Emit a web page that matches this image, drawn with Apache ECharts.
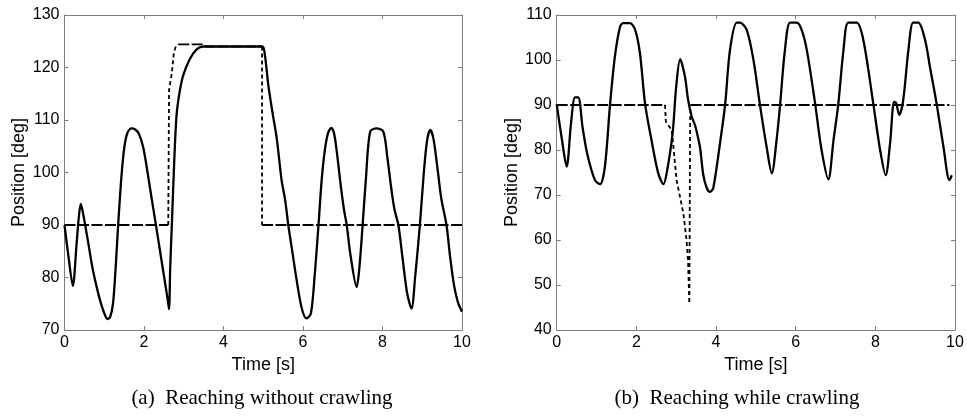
<!DOCTYPE html>
<html>
<head>
<meta charset="utf-8">
<script src="https://cdn.jsdelivr.net/npm/echarts@6/dist/echarts.min.js"></script>
<style>
  html, body { margin: 0; padding: 0; background: #fff; }
  #chart { width: 967px; height: 416px; }
</style>
</head>
<body>
<div id="chart"></div>
<script>
// --- data (time [s], position [deg]) ---
const yRangeA = [70, 130];
const yRangeB = [40, 110];

// (a) actual joint position, solid line
const actualA = [
  [0, 90], [0.1, 84], [0.21, 78.4], [0.3, 86], [0.36, 91.5], [0.41, 94], [0.46, 92.5],
  [0.52, 90], [0.6, 86.5], [0.7, 82], [0.8, 78.5], [0.9, 75.5], [1.0, 73.2], [1.08, 72.1],
  [1.15, 72.5], [1.22, 75], [1.28, 81], [1.35, 90], [1.43, 99], [1.5, 104.5], [1.58, 107.5],
  [1.68, 108.4], [1.78, 108.2], [1.87, 107.4], [1.98, 104.8], [2.1, 99.5], [2.2, 94.7],
  [2.3, 90], [2.4, 85.2], [2.5, 80.4], [2.6, 75.6], [2.63, 74], [2.66, 82], [2.7, 90],
  [2.76, 102], [2.82, 111], [2.9, 115.5], [2.99, 118.6], [3.16, 121.7], [3.33, 123.5],
  [3.5, 124], [4.97, 124], [5.04, 122.4], [5.13, 116.5], [5.25, 110.6], [5.34, 106.5],
  [5.46, 98.6], [5.55, 94.8], [5.63, 90], [5.74, 84.5], [5.84, 79.5], [5.97, 74.1],
  [6.09, 72.2], [6.2, 73.2], [6.3, 81], [6.39, 90], [6.47, 98.6], [6.55, 104.3],
  [6.63, 107.5], [6.71, 108.5], [6.78, 107.5], [6.85, 104], [6.95, 97.5], [7.03, 93],
  [7.1, 90], [7.2, 84], [7.35, 78.2], [7.42, 82], [7.5, 90], [7.58, 98.5], [7.69, 107.8],
  [7.85, 108.4], [8.02, 107.8], [8.12, 103], [8.22, 97], [8.3, 93], [8.4, 90], [8.5, 84],
  [8.62, 77], [8.73, 74.1], [8.82, 80], [8.94, 90], [9.04, 100], [9.12, 106], [9.2, 108.1],
  [9.28, 106.5], [9.38, 101], [9.48, 95], [9.61, 90], [9.7, 84], [9.8, 78.5], [9.9, 75.2],
  [10, 73.5]
];
// (a) reference, dashed: holding segments and moving segments
const refHoldA = [
  [[0, 90], [2.61, 90]],
  [[2.86, 124.4], [3.5, 124.4], [3.55, 124], [4.97, 124]],
  [[4.97, 90], [10, 90]]
];
const refMoveA = [
  [[2.61, 90], [2.63, 115.7], [2.7, 118.9], [2.75, 122.7], [2.8, 124], [2.86, 124.4]],
  [[4.97, 124], [4.97, 90]]
];

// (b) actual joint position, solid line
const actualB = [
  [0, 90.2], [0.12, 83], [0.25, 76.3], [0.36, 86], [0.46, 91.7], [0.54, 91.7], [0.65, 85],
  [0.77, 79], [0.96, 73.3], [1.09, 72.4], [1.21, 76.3], [1.34, 90.2], [1.46, 100.7],
  [1.59, 107.4], [1.67, 108.2], [1.84, 108.2], [1.97, 106.7], [2.09, 101.5], [2.22, 90.2],
  [2.38, 82.2], [2.55, 74.8], [2.68, 72.4], [2.76, 74.8], [2.91, 83.7], [3.0, 94.1],
  [3.1, 100.2], [3.22, 96.3], [3.3, 91.1], [3.39, 87.4], [3.47, 85.6], [3.53, 83.5],
  [3.6, 80.5], [3.68, 74.5], [3.77, 71.5], [3.85, 70.7], [3.93, 71.5], [4.1, 81.5], [4.23, 90.2],
  [4.35, 102.2], [4.52, 108.3], [4.6, 108.3], [4.77, 106.7], [4.94, 100], [5.1, 90.2],
  [5.27, 80.7], [5.4, 74.8], [5.52, 82.2], [5.61, 90.2], [5.73, 102.2], [5.86, 108.3],
  [6.03, 108.3], [6.15, 106.7], [6.28, 102.2], [6.49, 90.2], [6.65, 80], [6.82, 73.5],
  [6.95, 82.2], [7.07, 90.2], [7.2, 102.2], [7.32, 108.3], [7.53, 108.3], [7.7, 104.4],
  [7.95, 90.2], [8.12, 80], [8.26, 74.4], [8.37, 81.5], [8.47, 90.7], [8.52, 90.5],
  [8.6, 87.8], [8.7, 91.1], [8.83, 102.2], [8.95, 108.3], [9.08, 108.3], [9.25, 104.4],
  [9.37, 98.5], [9.54, 90.2], [9.71, 80.7], [9.86, 73.3], [9.92, 74.4]
];
// (b) reference, dashed
const refHoldB = [
  [[0, 90], [2.72, 90]],
  [[3.36, 90], [9.86, 90]]
];
const refMoveB = [
  [[2.72, 90], [2.74, 86.3], [2.89, 84.4], [3.01, 73.3], [3.18, 65.9], [3.26, 60],
   [3.3, 54.8], [3.33, 45.9], [3.35, 86.3], [3.36, 90]]
];

const captionA = "(a)  Reaching without crawling";
const captionB = "(b)  Reaching while crawling";

// --- chart ---
const boxColor = "#7d7d7d";
const sans = "Liberation Sans";

function makeX(gridIndex, bottom) {
  return {
    type: "value", gridIndex: gridIndex, min: 0, max: 10, interval: 2,
    position: bottom ? "bottom" : "top",
    name: bottom ? "Time [s]" : "",
    nameLocation: "middle", nameGap: 19,
    nameTextStyle: { fontFamily: sans, fontSize: 18, color: "#000" },
    axisLine: { show: true, onZero: false, lineStyle: { color: boxColor, width: 1 } },
    axisTick: { show: true, inside: true, length: 4, lineStyle: { color: boxColor } },
    axisLabel: { show: bottom, margin: 5, fontFamily: sans, fontSize: 16, color: "#000" },
    splitLine: { show: false }
  };
}
function makeY(gridIndex, range, left) {
  return {
    type: "value", gridIndex: gridIndex, min: range[0], max: range[1], interval: 10,
    position: left ? "left" : "right",
    name: left ? "Position [deg]" : "",
    nameLocation: "middle", nameGap: 36,
    nameTextStyle: { fontFamily: sans, fontSize: 18, color: "#000" },
    axisLine: { show: true, onZero: false, lineStyle: { color: boxColor, width: 1 } },
    axisTick: { show: true, inside: true, length: 4, lineStyle: { color: boxColor } },
    axisLabel: { show: left, margin: 5, fontFamily: sans, fontSize: 16, color: "#000" },
    splitLine: { show: false }
  };
}
function solid(data, axis) {
  return {
    type: "line", xAxisIndex: axis, yAxisIndex: axis, data: data,
    smooth: 0.3, symbol: "none",
    lineStyle: { color: "#000", width: 2.3 }
  };
}
function dashed(segs, axis, dash) {
  return segs.map(function (seg) {
    return {
      type: "line", xAxisIndex: axis, yAxisIndex: axis, data: seg,
      symbol: "none", z: 3,
      lineStyle: { color: "#000", width: 1.8, type: dash }
    };
  });
}

const chart = echarts.init(document.getElementById("chart"), null, { renderer: "canvas" });
chart.setOption({
  animation: false,
  backgroundColor: "#fff",
  title: [
    { text: captionA, left: 257, top: 383, textAlign: "center",
      textStyle: { fontFamily: "Liberation Serif", fontSize: 21, fontWeight: "normal", color: "#000" } },
    { text: captionB, left: 732, top: 383, textAlign: "center",
      textStyle: { fontFamily: "Liberation Serif", fontSize: 21, fontWeight: "normal", color: "#000" } }
  ],
  grid: [
    { left: 64.5, top: 15, width: 397.5, height: 315 },
    { left: 556.7, top: 15, width: 398.3, height: 315 }
  ],
  xAxis: [makeX(0, true), makeX(1, true), makeX(0, false), makeX(1, false)],
  yAxis: [makeY(0, yRangeA, true), makeY(1, yRangeB, true), makeY(0, yRangeA, false), makeY(1, yRangeB, false)],
  series: [].concat(
    [solid(actualA, 0), solid(actualB, 1)],
    dashed(refHoldA, 0, [11, 2.5]),
    dashed(refMoveA, 0, [4, 3]),
    dashed(refHoldB, 1, [11, 2.5]),
    dashed(refMoveB, 1, [4, 3])
  )
});
</script>
</body>
</html>
